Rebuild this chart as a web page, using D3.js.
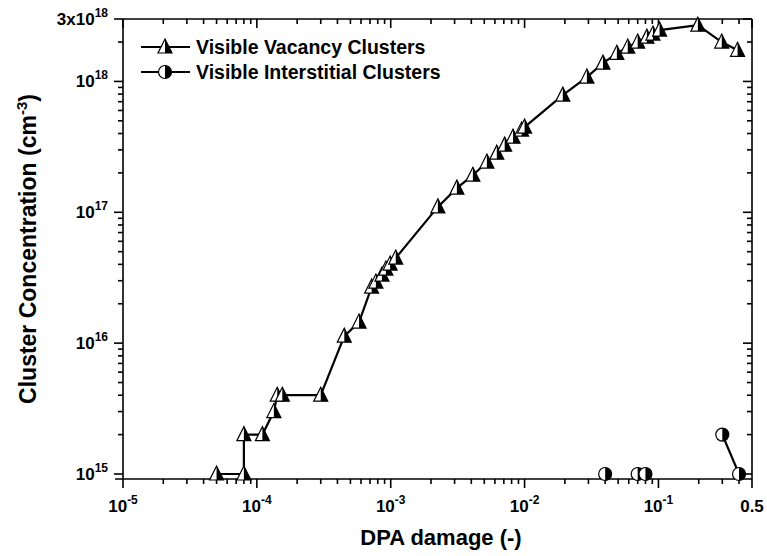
<!DOCTYPE html>
<html>
<head>
<meta charset="utf-8">
<script src="https://cdn.jsdelivr.net/npm/d3@7"></script>
<style>
  html, body { margin: 0; padding: 0; background: #fff; }
  svg { display: block; font-family: "Liberation Sans", Arial, sans-serif; }
</style>
</head>
<body>
<svg id="chart" width="767" height="556"></svg>
<script>
// ---------------- DATA ----------------
const vacancyDpa = [5e-5, 8e-5, 8e-5, 1.1e-4, 1.34e-4, 1.42e-4, 1.55e-4, 3e-4,
  4.5e-4, 5.8e-4, 7.2e-4, 7.75e-4, 8.6e-4, 9.2e-4, 9.9e-4, 1.09e-3,
  2.25e-3, 3.12e-3, 4.11e-3, 5.23e-3, 6.2e-3, 7.1e-3, 8.2e-3, 9.5e-3, 1.0e-2,
  1.93e-2, 2.92e-2, 3.85e-2, 4.89e-2, 5.9e-2, 7.0e-2, 8.2e-2, 9.1e-2, 0.102,
  0.197, 0.297, 0.39];
const vacancyConc = [1e15, 1e15, 2e15, 2e15, 3e15, 4e15, 4e15, 4e15,
  1.13e16, 1.45e16, 2.68e16, 2.93e16, 3.31e16, 3.68e16, 4.02e16, 4.47e16,
  1.1e17, 1.53e17, 1.92e17, 2.42e17, 2.83e17, 3.26e17, 3.75e17, 4.25e17, 4.48e17,
  7.86e17, 1.08e18, 1.38e18, 1.64e18, 1.83e18, 2.0e18, 2.18e18, 2.3e18, 2.47e18,
  2.69e18, 2.0e18, 1.73e18];

// null = no clusters (zero, not drawable on a log axis) -> line is broken there
const interstitialDpa  = [0.04, 0.055, 0.07, 0.08, 0.15, 0.3, 0.4];
const interstitialConc = [1e15, null, 1e15, 1e15, null, 2e15, 1e15];

const seriesNames = ["Visible Vacancy Clusters", "Visible Interstitial Clusters"];

const xMajorTicks = [1e-5, 1e-4, 1e-3, 1e-2, 1e-1, 0.5];
const xMajorLabels = [["10", "-5"], ["10", "-4"], ["10", "-3"], ["10", "-2"], ["10", "-1"], ["0.5", ""]];
const yMajorTicks = [1e15, 1e16, 1e17, 1e18, 3e18];
const yMajorLabels = [["10", "15"], ["10", "16"], ["10", "17"], ["10", "18"], ["3x10", "18"]];

const xTitle = "DPA damage (-)";
const yTitleMain = "Cluster Concentration (cm";
const yTitleSup = "-3";

// ---------------- LAYOUT ----------------
const svg = d3.select("#chart");
const pL = 123, pR = 752, pT = 19, pB = 474, xAxisY = 479;

const x = d3.scaleLog().domain([1e-5, 0.5]).range([pL, pR]);
const y = d3.scaleLog().domain([1e15, 3e18]).range([pB, pT]);

svg.append("rect").attr("width", 767).attr("height", 556).attr("fill", "#fff");

function minors(lo, hi) {
  const out = [];
  for (let e = Math.floor(Math.log10(lo)); e <= Math.ceil(Math.log10(hi)); e++) {
    for (let k = 2; k <= 9; k++) {
      const v = k * Math.pow(10, e);
      if (v > lo * 1.0001 && v < hi * 0.9999) out.push(v);
    }
  }
  return out;
}
const xMinor = minors(1e-5, 0.5);
const yMinor = minors(1e15, 3e18);

const axisG = svg.append("g").attr("stroke", "#000").attr("stroke-width", 1.6).attr("fill", "none");
axisG.append("line").attr("x1", pL - 8).attr("x2", pR).attr("y1", xAxisY).attr("y2", xAxisY);
axisG.append("line").attr("x1", pL).attr("x2", pR).attr("y1", pT).attr("y2", pT);
axisG.append("line").attr("x1", pL).attr("x2", pL).attr("y1", pT).attr("y2", xAxisY);
axisG.append("line").attr("x1", pR).attr("x2", pR).attr("y1", pT).attr("y2", xAxisY);

const MAJ = 9, MIN = 5;
xMajorTicks.forEach(v => {
  axisG.append("line").attr("x1", x(v)).attr("x2", x(v)).attr("y1", xAxisY).attr("y2", xAxisY + MAJ);
  axisG.append("line").attr("x1", x(v)).attr("x2", x(v)).attr("y1", pT).attr("y2", pT + MAJ);
});
xMinor.forEach(v => {
  axisG.append("line").attr("x1", x(v)).attr("x2", x(v)).attr("y1", xAxisY).attr("y2", xAxisY + MIN);
  axisG.append("line").attr("x1", x(v)).attr("x2", x(v)).attr("y1", pT).attr("y2", pT + MIN);
});
yMajorTicks.forEach(v => {
  axisG.append("line").attr("x1", pL - MAJ).attr("x2", pL).attr("y1", y(v)).attr("y2", y(v));
  axisG.append("line").attr("x1", pR - MAJ).attr("x2", pR).attr("y1", y(v)).attr("y2", y(v));
});
yMinor.forEach(v => {
  axisG.append("line").attr("x1", pL - MIN).attr("x2", pL).attr("y1", y(v)).attr("y2", y(v));
  axisG.append("line").attr("x1", pR - MIN).attr("x2", pR).attr("y1", y(v)).attr("y2", y(v));
});

const labFont = 17, supFont = 12;
xMajorTicks.forEach((v, i) => {
  const t = svg.append("text").attr("x", x(v)).attr("y", 512)
    .attr("text-anchor", "middle").attr("font-weight", "bold").attr("font-size", labFont).attr("fill", "#000");
  t.append("tspan").text(xMajorLabels[i][0]);
  if (xMajorLabels[i][1]) t.append("tspan").attr("dy", -8).attr("font-size", supFont).text(xMajorLabels[i][1]);
});
yMajorTicks.forEach((v, i) => {
  const t = svg.append("text").attr("x", 108).attr("y", y(v) + 6)
    .attr("text-anchor", "end").attr("font-weight", "bold").attr("font-size", labFont).attr("fill", "#000");
  t.append("tspan").text(yMajorLabels[i][0]);
  t.append("tspan").attr("dy", -8).attr("font-size", supFont).text(yMajorLabels[i][1]);
});

svg.append("text").attr("x", 441).attr("y", 545).attr("text-anchor", "middle")
  .attr("font-weight", "bold").attr("font-size", 22).attr("fill", "#000").text(xTitle);
const yt = svg.append("text").attr("transform", "translate(36,249) rotate(-90)")
  .attr("text-anchor", "middle").attr("font-weight", "bold").attr("font-size", 23).attr("fill", "#000");
yt.append("tspan").text(yTitleMain);
yt.append("tspan").attr("dy", -9).attr("font-size", 15).text(yTitleSup);
yt.append("tspan").attr("dy", 9).text(")");

function triangle(g) {
  g.append("path").attr("d", "M0,-8L7,6L-7,6Z").attr("fill", "#fff");
  g.append("path").attr("d", "M0,-8L7,6L0,6Z").attr("fill", "#000");
  g.append("path").attr("d", "M0,-8L7,6L-7,6Z").attr("fill", "none").attr("stroke", "#000").attr("stroke-width", 1.2);
}
function halfCircle(g) {
  const r = 6.5;
  g.append("circle").attr("r", r).attr("fill", "#fff");
  g.append("path").attr("d", `M0,${-r}A${r},${r} 0 0 1 0,${r}Z`).attr("fill", "#000");
  g.append("circle").attr("r", r).attr("fill", "none").attr("stroke", "#000").attr("stroke-width", 1.2);
}

const line = d3.line().defined(d => d[1] != null).x(d => x(d[0])).y(d => y(d[1]));

const vac = vacancyDpa.map((d, i) => [d, vacancyConc[i]]);
const inter = interstitialDpa.map((d, i) => [d, interstitialConc[i]]);

svg.append("path").datum(vac).attr("d", line).attr("fill", "none").attr("stroke", "#000").attr("stroke-width", 2.2);
svg.append("path").datum(inter).attr("d", line).attr("fill", "none").attr("stroke", "#000").attr("stroke-width", 2.2);

svg.append("g").selectAll("g").data(vac).join("g")
  .attr("transform", d => `translate(${x(d[0])},${y(d[1])})`).each(function() { triangle(d3.select(this)); });
svg.append("g").selectAll("g").data(inter.filter(d => d[1] != null)).join("g")
  .attr("transform", d => `translate(${x(d[0])},${y(d[1])})`).each(function() { halfCircle(d3.select(this)); });

const legend = svg.append("g");
[[triangle, 47], [halfCircle, 72]].forEach(([fn, ly], i) => {
  legend.append("line").attr("x1", 141).attr("x2", 190).attr("y1", ly).attr("y2", ly)
    .attr("stroke", "#000").attr("stroke-width", 2.2);
  const g = legend.append("g").attr("transform", `translate(165,${ly})`);
  fn(g);
  legend.append("text").attr("x", 196).attr("y", ly + 7).attr("font-weight", "bold")
    .attr("font-size", 19.5).attr("fill", "#000").text(seriesNames[i]);
});
</script>
</body>
</html>
